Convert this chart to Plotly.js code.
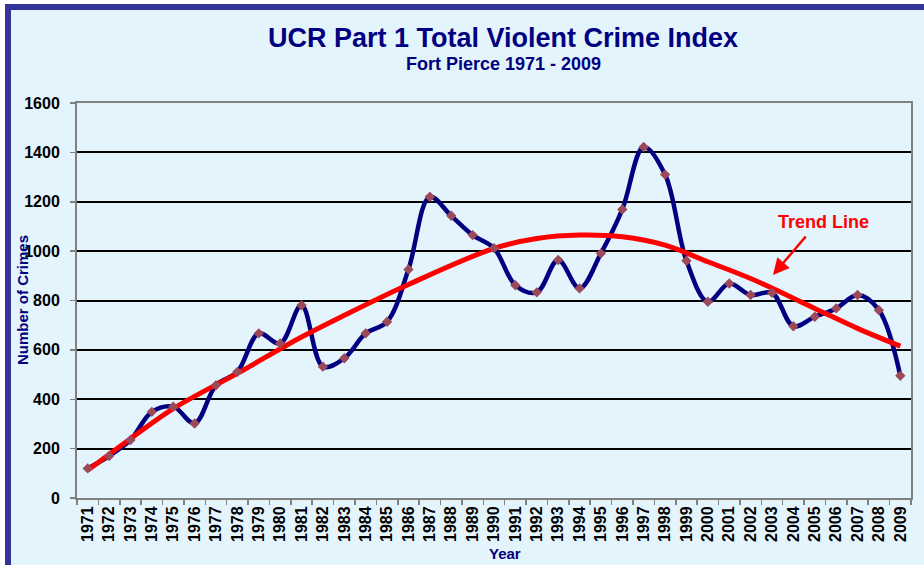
<!DOCTYPE html>
<html>
<head>
<meta charset="utf-8">
<script src="https://cdn.plot.ly/plotly-3.0.1.min.js"></script>
<style>
  html, body { margin: 0; padding: 0; background: #ffffff; }
  #bg { position: absolute; left: 5px; top: 4px; width: 913px; height: 555px;
        background: #E4F4FC; border-left: 6px solid #333399; border-top: 6px solid #333399; }
  #chart { position: absolute; left: 0; top: 0; width: 924px; height: 565px; }
</style>
</head>
<body>
<div id="bg"></div>
<div id="chart"></div>
<script>
// Data
const years = ['1971','1972','1973','1974','1975','1976','1977','1978','1979','1980',
               '1981','1982','1983','1984','1985','1986','1987','1988','1989','1990',
               '1991','1992','1993','1994','1995','1996','1997','1998','1999','2000',
               '2001','2002','2003','2004','2005','2006','2007','2008','2009'];
const crimes = [120, 170, 235, 349, 370, 302, 457, 511, 667, 626,
                781, 532, 566, 667, 714, 926, 1220, 1143, 1065, 1012,
                862, 833, 964, 849, 991, 1169, 1422, 1310, 961, 795,
                869, 822, 831, 696, 734, 768, 822, 761, 495];
// Trend line read at several years
const trendYears = ['1971','1973','1975','1978','1981','1983','1986','1990','1992','1994','1996','1998','2000','2002','2005','2007','2009'];
const trendValues = [112, 240, 362, 505, 652, 740, 865, 1011, 1051, 1065, 1058, 1024, 957, 889, 768, 687, 615];
const yTicks = [0, 200, 400, 600, 800, 1000, 1200, 1400, 1600];

const FONT = 'Liberation Sans, Arial, sans-serif';
const NAVY = '#000080';

const traces = [
  { x: years, y: crimes, type: 'scatter', mode: 'lines',
    line: { color: NAVY, width: 4.5, shape: 'spline', smoothing: 1 }, hoverinfo: 'skip' },
  { x: trendYears, y: trendValues, type: 'scatter', mode: 'lines',
    line: { color: '#FF0000', width: 5, shape: 'spline', smoothing: 1 }, hoverinfo: 'skip' },
  { x: years, y: crimes, type: 'scatter', mode: 'markers',
    marker: { symbol: 'diamond', size: 8, color: '#9C4A5A' }, hoverinfo: 'skip' }
];

const layout = {
  width: 924, height: 565,
  paper_bgcolor: 'rgba(0,0,0,0)',
  plot_bgcolor: 'rgba(0,0,0,0)',
  showlegend: false,
  margin: { l: 77, r: 13, t: 103, b: 67 },
  font: { family: FONT, color: '#000000' },
  title: { text: 'UCR Part 1 Total Violent Crime Index', xref: 'container', x: 503/924,
           xanchor: 'center', yref: 'container', y: 1 - 38/565, yanchor: 'middle',
           font: { family: FONT, size: 27, color: NAVY, weight: 'bold' } },
  xaxis: {
    type: 'category', categoryorder: 'array', categoryarray: years,
    range: [-0.5, 38.5], tickson: 'boundaries',
    tickvals: years, ticktext: years, tickangle: -90,
    ticks: 'outside', ticklen: 5, tickcolor: '#808080', tickwidth: 1.5,
    tickfont: { family: FONT, size: 16, color: '#000000', weight: 'bold' },
    showline: true, linecolor: '#808080', linewidth: 2, mirror: true,
    showgrid: false, zeroline: false, fixedrange: true
  },
  yaxis: {
    range: [0, 1600], tickvals: yTicks, ticktext: yTicks.map(String),
    ticks: 'outside', ticklen: 5, tickcolor: '#808080', tickwidth: 1.5,
    ticklabelstandoff: 7,
    tickfont: { family: FONT, size: 16, color: '#000000', weight: 'bold' },
    showline: true, linecolor: '#808080', linewidth: 2, mirror: true,
    showgrid: true, gridcolor: '#000000', gridwidth: 2, zeroline: false, fixedrange: true
  },
  annotations: [
    { text: 'Fort Pierce 1971 - 2009', xref: 'paper', yref: 'paper',
      x: (503-77)/834, y: (498-64)/395, xanchor: 'center', yanchor: 'middle', showarrow: false,
      font: { family: FONT, size: 18, color: NAVY, weight: 'bold' } },
    { text: 'Number of Crimes', xref: 'paper', yref: 'paper', textangle: -90,
      x: (22-77)/834, y: (498-300)/395, xanchor: 'center', yanchor: 'middle', showarrow: false,
      font: { family: FONT, size: 15, color: NAVY, weight: 'bold' } },
    { text: 'Year', xref: 'paper', yref: 'paper',
      x: (505-77)/834, y: (498-553)/395, xanchor: 'center', yanchor: 'middle', showarrow: false,
      font: { family: FONT, size: 15, color: NAVY, weight: 'bold' } },
    { text: 'Trend Line', xref: 'paper', yref: 'paper',
      x: (823-77)/834, y: (498-222)/395, xanchor: 'center', yanchor: 'middle', showarrow: false,
      font: { family: FONT, size: 18, color: '#FF0000', weight: 'bold' } },
    { text: '', xref: 'paper', yref: 'paper',
      x: (773-77)/834, y: (498-275)/395, showarrow: true, axref: 'pixel', ayref: 'pixel',
      ax: 34, ay: -40, arrowhead: 2, arrowsize: 1.3, arrowwidth: 2.5, arrowcolor: '#FF0000' }
  ]
};

Plotly.newPlot('chart', traces, layout, { displayModeBar: false, staticPlot: true });
</script>
</body>
</html>
